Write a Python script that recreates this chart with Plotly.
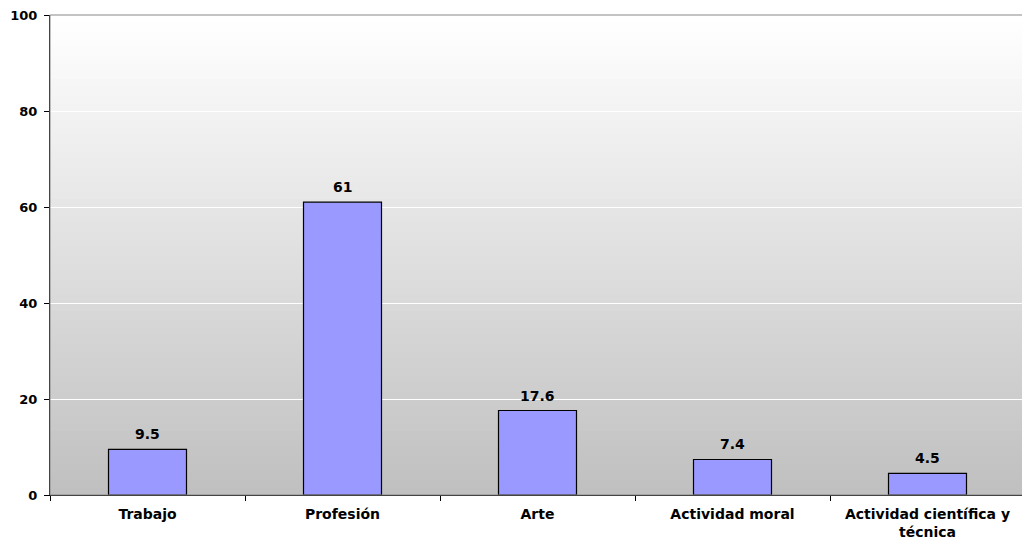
import plotly.graph_objects as go

categories = ["Trabajo", "Profesión", "Arte", "Actividad moral", "Actividad científica y<br>técnica"]
values = [9.5, 61, 17.6, 7.4, 4.5]
labels = ["9.5", "61", "17.6", "7.4", "4.5"]
y_ticks = [0, 20, 40, 60, 80, 100]

fig = go.Figure()
fig.add_trace(go.Bar(
    x=categories, y=values,
    marker=dict(color="#9999FF", line=dict(color="black", width=1.2)),
))

for c, v, lab in zip(categories, values, labels):
    fig.add_annotation(x=c, y=v, text=lab, showarrow=False, yanchor="bottom", yshift=5,
                       font=dict(family="DejaVu Sans", size=14, color="black", weight="bold"))

# gradient background bands
n = 60
shapes = []
for i in range(n):
    t = i / (n - 1)
    c = int(round(255 - (255 - 192) * (1 - t)))
    shapes.append(dict(type="rect", xref="paper", yref="paper",
                       x0=0, x1=1, y0=i / n, y1=(i + 1) / n,
                       fillcolor=f"rgb({c},{c},{c})", line=dict(width=0), layer="below"))
shapes.append(dict(type="rect", xref="paper", yref="paper", x0=0, x1=1, y0=0, y1=1,
                   line=dict(color="#888888", width=1), fillcolor="rgba(0,0,0,0)", layer="above"))
fig.update_layout(shapes=shapes)

fig.update_layout(
    width=1022, height=532,
    margin=dict(l=42, r=5, t=7, b=45, autoexpand=False),
    paper_bgcolor="white", plot_bgcolor="rgba(0,0,0,0)",
    showlegend=False, bargap=0.6,
    font=dict(family="DejaVu Sans", color="black"),
)
fig.update_xaxes(
    automargin=False,
    showline=True, linecolor="black", linewidth=1, ticks="outside", tickson="boundaries",
    ticklen=5, tickcolor="black", showgrid=False, ticklabelstandoff=6,
    ticklabeloverflow="allow",
    tickfont=dict(family="DejaVu Sans", size=14, color="black", weight="bold"),
)
fig.update_yaxes(
    automargin=False,
    range=[0, 100], tickvals=y_ticks, showline=True, linecolor="black", linewidth=1,
    ticks="outside", ticklen=5, tickcolor="black", showgrid=True, gridcolor="white",
    gridwidth=1, zeroline=False, ticklabelstandoff=4, ticklabeloverflow="allow",
    tickfont=dict(family="DejaVu Sans", size=13, color="black", weight="bold"),
)

fig.write_html("out.html")
